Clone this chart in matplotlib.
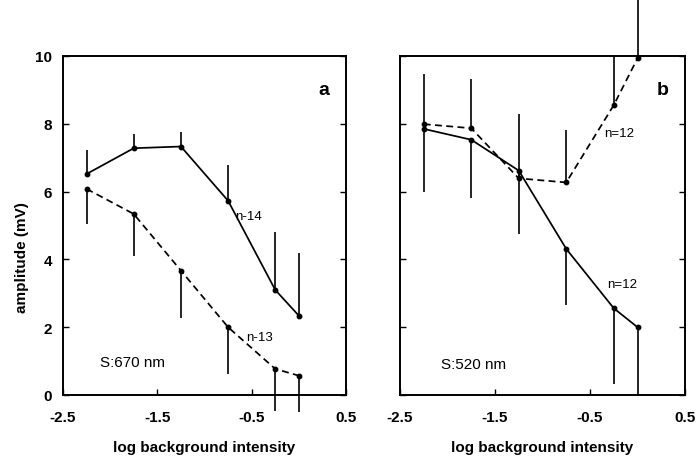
import matplotlib
matplotlib.use("Agg")
import matplotlib.pyplot as plt

plt.rcParams['font.family'] = ['Liberation Sans', 'DejaVu Sans']

# Panel a (S:670 nm)
xa = [-2.25, -1.75, -1.25, -0.75, -0.25, 0.0]
a_solid = [6.52, 7.28, 7.33, 5.73, 3.10, 2.34]
a_solid_err_up = [0.72, 0.41, 0.44, 1.05, 1.70, 1.86]
a_dash = [6.08, 5.34, 3.67, 2.00, 0.77, 0.57]
a_dash_err_dn = [1.04, 1.25, 1.41, 1.38, 1.23, 1.07]

# Panel b (S:520 nm)
xb = [-2.25, -1.75, -1.25, -0.75, -0.25, 0.0]
b_solid = [7.85, 7.53, 6.62, 4.31, 2.56, 2.00]
b_solid_err_dn = [1.85, 1.73, 1.87, 1.66, 2.24, 2.00]
b_dash = [7.99, 7.87, 6.39, 6.27, 8.55, 9.93]
b_dash_err_up = [1.48, 1.45, 1.90, 1.56, 1.45, 1.80]

xticks = [-2.5, -1.5, -0.5, 0.5]
xticklabels = ['-2.5', '-1.5', '-0.5', '0.5']
yticks = [0, 2, 4, 6, 8, 10]

fig = plt.figure(figsize=(6.96, 4.6), dpi=100)
W, H = 696, 460
axA = fig.add_axes([63 / W, (H - 396) / H, 283 / W, 339 / H])
axB = fig.add_axes([400 / W, (H - 396) / H, 285 / W, 339 / H])

lw = 1.25
def setup(ax, show_ylabels):
    ax.set_xlim(-2.5, 0.5)
    ax.set_ylim(0, 10)
    ax.set_xticks(xticks)
    ax.set_xticklabels(xticklabels)
    ax.set_yticks(yticks)
    ax.tick_params(direction='in', length=4, width=1, labelsize=11, right=True, top=False)
    ax.tick_params(axis='x', pad=11)
    ax.tick_params(axis='y', pad=8)
    for lab in ax.get_xticklabels() + ax.get_yticklabels():
        lab.set_fontweight('bold')
    if not show_ylabels:
        ax.set_yticklabels([])
    for s in ax.spines.values():
        s.set_linewidth(1.4)
    ax.set_xlabel('log background intensity', fontsize=11, fontweight='bold', labelpad=11)

setup(axA, True)
setup(axB, False)

def errs(ax, x, y, lo, hi):
    eb = ax.errorbar(x, y, yerr=[lo, hi], fmt='none', ecolor='black',
                     elinewidth=1.2, capsize=0)
    for c in eb.lines[2]:
        c.set_clip_on(False)

zeros = [0] * 6
# Panel a
axA.plot(xa, a_solid, '-', color='black', lw=lw, marker='o', ms=3.2, clip_on=False)
errs(axA, xa, a_solid, zeros, a_solid_err_up)
axA.plot(xa, a_dash, '--', color='black', lw=lw, dashes=(4, 2.5), marker='o', ms=3.2, clip_on=False)
errs(axA, xa, a_dash, a_dash_err_dn, zeros)

# Panel b
axB.plot(xb, b_solid, '-', color='black', lw=lw, marker='o', ms=3.2, clip_on=False)
errs(axB, xb, b_solid, b_solid_err_dn, zeros)
axB.plot(xb, b_dash, '--', color='black', lw=lw, dashes=(4, 2.5), marker='o', ms=3.2, clip_on=False)
errs(axB, xb, b_dash, zeros, b_dash_err_up)

# Annotations
axA.text(0.92, 0.9, 'a', transform=axA.transAxes, fontsize=14, fontweight='bold',
         ha='center', va='center')
axB.text(0.92, 0.9, 'b', transform=axB.transAxes, fontsize=14, fontweight='bold',
         ha='center', va='center')
axA.text(-0.53, 5.27, 'n-14', fontsize=9.5, ha='center', va='center')
axA.text(-0.42, 1.7, 'n-13', fontsize=9.5, ha='center', va='center')
axA.text(-1.76, 0.97, 'S:670 nm', fontsize=11, ha='center', va='center')
axB.text(-0.19, 7.73, 'n=12', fontsize=9.5, ha='center', va='center')
axB.text(-0.16, 3.27, 'n=12', fontsize=9.5, ha='center', va='center')
axB.text(-1.73, 0.91, 'S:520 nm', fontsize=11, ha='center', va='center')

fig.text(22 / W, 1 - 258 / H, 'amplitude (mV)', rotation=90, fontsize=11,
         fontweight='bold', ha='center', va='center')

fig.savefig('out.png', dpi=100)
